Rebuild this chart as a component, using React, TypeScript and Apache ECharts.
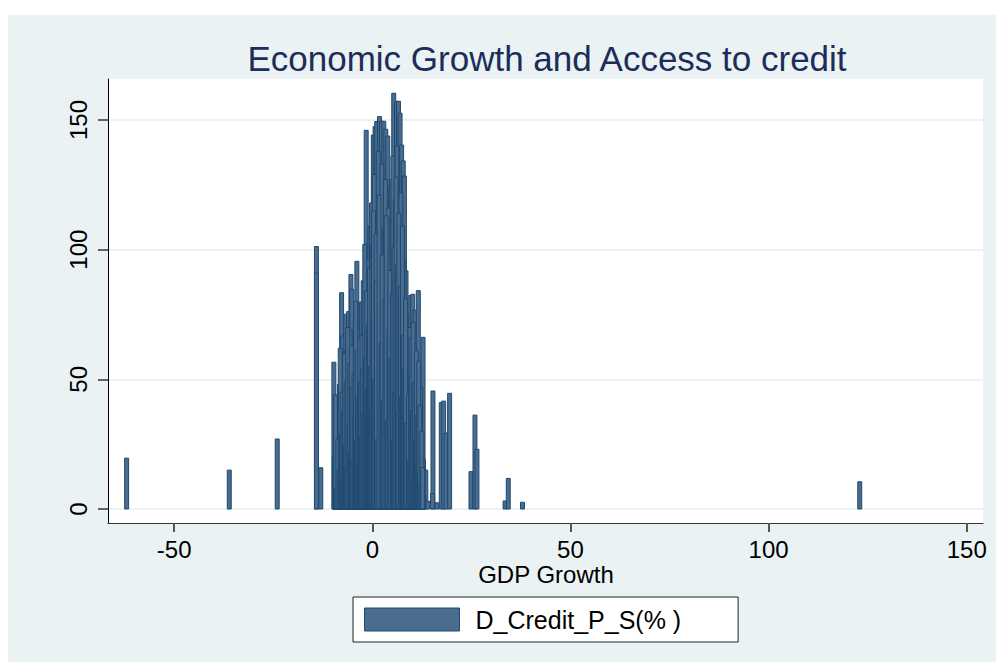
import React, { useEffect, useRef } from "react";
import * as echarts from "echarts";

const titleText = "Economic Growth and Access to credit";
const xAxisTitle = "GDP Growth";
const seriesName = "D_Credit_P_S(% )";

const xTicks = [-50, 0, 50, 100, 150];
const yTicks = [0, 50, 100, 150];

// GDP growth (x) of each observation
const gdpGrowth = [
  // isolated observations
  -62.0, -36.1, -24.0, -14.1, -14.1, -13.0, 24.9, 25.9, 26.4, 33.5, 34.3, 37.9, 123.0,
  15.3, 15.2, 16.3, 17.4, 18.0, 18.6, 19.5, 12.9, 13.5,
  // outer envelope of the central mass
  -9.7, -8.8, -7.75, -7.5, -6.7, -6.0, -5.4, -5.2, -4.7, -3.9, -3.5, -2.75, -2.2, -1.55, -0.6,
  0.25, 0.7, 1.1, 1.8, 2.3, 2.9, 3.4, 3.9, 4.5, 4.8, 5.4, 6.1, 6.6, 7.0, 7.4, 7.8, 8.1, 8.5,
  8.8, 9.2, 9.7, 10.2, 10.8, 11.4, 11.6, 12.8,
  // inner observations of the central mass
  -9.4, -9.1, -8.6, -8.3, -8.0, -7.9, -7.3, -7.1, -6.9, -6.5, -6.3, -6.1, -5.8, -5.6, -5.0,
  -4.8, -4.5, -4.3, -4.1, -3.7, -3.3, -3.1, -2.9, -2.5, -2.3, -2.0, -1.8, -1.3, -1.1, -0.9,
  -0.4, -0.2, 0.0, 0.1, 0.4, 0.5, 0.8, 0.9, 1.2, 1.3, 1.5, 1.6, 1.9, 2.0, 2.1, 2.4, 2.6, 2.7,
  3.0, 3.1, 3.3, 3.6, 3.7, 4.0, 4.1, 4.3, 4.6, 4.9, 5.0, 5.2, 5.6, 5.8, 5.9, 6.2, 6.4, 6.8,
  6.9, 7.2, 7.5, 7.7, 8.0, 8.3, 8.6, 8.9, 9.0, 9.4, 9.5, 9.9, 10.0, 10.4, 10.6, 11.0, 11.2,
  11.8, 12.2, 12.4, 12.6, 13.0, 14.0,
  -9.6, -9.3, -9.0, -8.7, -8.4, -8.1, -7.8, -7.6, -7.4, -7.2, -7.0, -6.8, -6.6, -6.4, -6.2,
  -5.9, -5.7, -5.5, -5.3, -5.1, -4.9, -4.6, -4.4, -4.2, -4.0, -3.8, -3.6, -3.4, -3.2, -3.0,
  -2.8, -2.6, -2.4, -2.1, -1.9, -1.7, -1.6, -1.4, -1.2, -1.0, -0.8, -0.7, -0.5, -0.3, -0.1,
  0.2, 0.3, 0.6, 0.95, 1.05, 1.4, 1.7, 2.2, 2.5, 2.8, 3.2, 3.5, 3.8, 4.2, 4.4, 4.7, 5.1, 5.3,
  5.5, 5.7, 6.0, 6.3, 6.5, 6.7, 7.1, 7.3, 7.6, 7.9, 8.2, 8.4, 8.7, 9.1, 9.3, 9.6, 9.8, 10.1,
  10.3, 10.5, 10.7, 10.9, 11.1, 11.3, 11.5, 11.7, 11.9, 12.0, 12.3, 12.5, 12.7,
];

// D_Credit_P_S(%) of each observation
const creditShare = [
  19.6, 15.0, 27.0, 101.2, 91.0, 15.9, 14.4, 36.2, 23.0, 3.1, 11.8, 2.6, 10.5,
  45.5, 6.0, 2.4, 41.0, 41.6, 29.3, 44.6, 19.2, 15.0,
  56.6, 37.8, 83.4, 66.7, 75.1, 76.1, 90.4, 84.7, 66.2, 95.5, 69.3, 79.8, 67.0, 146.0, 109.1,
  144.2, 147.4, 149.4, 151.3, 149.5, 149.5, 146.4, 143.8, 124.3, 127.1, 160.3, 157.2, 157.2, 152.6, 140.3, 134.2, 128.4, 91.8,
  74.8, 57.5, 82.3, 82.8, 76.7, 51.4, 84.2, 66.2,
  12, 31, 22, 48, 9, 35, 54, 18, 42, 61, 27, 50, 14, 69, 38,
  57, 22, 73, 45, 30, 58, 12, 65, 40, 88, 25, 71, 52, 96, 34,
  80, 118, 61, 102, 44, 129, 85, 20, 112, 68, 138, 37, 95, 121, 56, 133, 79, 18,
  108, 47, 127, 90, 63, 116, 29, 99, 73, 41, 112, 136, 87, 119, 52, 140, 66, 104,
  31, 122, 77, 58, 96, 39, 62, 24, 48, 35, 70, 15, 55, 28, 64, 42, 10,
  33, 47, 21, 8, 5, 3,
  20, 44, 8, 27, 15, 62, 29, 45, 11, 38, 60, 24, 49, 16, 70,
  33, 56, 21, 63, 47, 19, 52, 36, 80, 26, 61, 43, 17, 66, 49,
  28, 67, 54, 37, 102, 58, 23, 84, 46, 71, 15, 93, 55, 38, 97,
  74, 115, 50, 106, 88, 27, 121, 64, 98, 42, 81, 113, 34, 69, 92, 58, 83, 26,
  101, 45, 128, 94, 37, 114, 86, 43, 109, 67, 54, 81, 33, 44, 19, 51, 66, 38,
  72, 12, 49, 27, 61, 36, 18, 57, 13, 40, 9, 30, 16,
];

const FONT = "'Liberation Sans', Arial, sans-serif";
const BAR_FILL = "#4a6c8e";
const BAR_EDGE = "#1f4a70";

export default function App() {
  const ref = useRef<HTMLDivElement>(null);

  useEffect(() => {
    if (!ref.current) return;
    const chart = echarts.init(ref.current, null, { renderer: "svg" });
    const data = gdpGrowth.map((x, i) => [x, creditShare[i]]);

    chart.setOption({
      animation: false,
      backgroundColor: "transparent",
      graphic: [
        {
          type: "text",
          x: 539,
          y: 43,
          style: {
            text: titleText,
            font: `35px ${FONT}`,
            fill: "#1c2d5a",
            textAlign: "center",
            textVerticalAlign: "middle",
          },
        },
        {
          type: "text",
          x: 538,
          y: 559,
          style: {
            text: xAxisTitle,
            font: `24px ${FONT}`,
            lineHeight: 18,
            fill: "#000",
            textAlign: "center",
            textVerticalAlign: "middle",
          },
        },
      ],
      legend: {
        left: 345,
        top: 582,
        orient: "horizontal",
        backgroundColor: "#fff",
        borderColor: "#222",
        borderWidth: 1,
        borderRadius: 0,
        padding: [10, 57, 10, 11],
        itemWidth: 95,
        itemHeight: 23,
        textStyle: { fontSize: 25, color: "#000", fontFamily: FONT, padding: [0, 0, 0, 11] },
        data: [
          {
            name: seriesName,
            icon: "rect",
            itemStyle: { color: BAR_FILL, borderColor: BAR_EDGE, borderWidth: 1 },
          },
        ],
      },
      grid: {
        left: 100,
        top: 64,
        width: 875,
        height: 444,
        show: true,
        backgroundColor: "#fff",
        borderWidth: 0,
      },
      xAxis: {
        type: "value",
        min: -66.7,
        max: 154.1,
        axisLine: { show: true, onZero: false, lineStyle: { color: "#333", width: 1 } },
        axisTick: {
          show: true,
          length: 9,
          inside: false,
          customValues: xTicks,
          lineStyle: { color: "#555", width: 2 },
        },
        axisLabel: {
          customValues: xTicks,
          fontSize: 24,
          lineHeight: 18,
          color: "#000",
          fontFamily: FONT,
          margin: 17,
        },
        splitLine: { show: false },
      },
      yAxis: {
        type: "value",
        min: -5.4,
        max: 165.8,
        axisLine: { show: true, onZero: false, lineStyle: { color: "#000", width: 1 } },
        axisTick: {
          show: true,
          length: 10,
          inside: false,
          customValues: yTicks,
          lineStyle: { color: "#333", width: 1.5 },
        },
        axisLabel: {
          customValues: yTicks,
          rotate: 90,
          fontSize: 24,
          color: "#000",
          fontFamily: FONT,
          margin: 18,
        },
        splitLine: { show: true, lineStyle: { color: "#eaf2f3", width: 2 } },
      },
      series: [
        {
          name: seriesName,
          type: "custom",
          clip: true,
          encode: { x: 0, y: 1 },
          data,
          renderItem: (params: any, api: any) => {
            const x = api.value(0);
            const y = api.value(1);
            const p0 = api.coord([x - 0.5, y]);
            const p1 = api.coord([x + 0.5, 0]);
            return {
              type: "rect",
              shape: { x: p0[0], y: p0[1], width: p1[0] - p0[0], height: p1[1] - p0[1] },
              style: { fill: BAR_FILL, stroke: BAR_EDGE, lineWidth: 1 },
            };
          },
        },
      ],
    });

    return () => chart.dispose();
  }, []);

  return (
    <div style={{ position: "fixed", left: 0, top: 0, width: 996, height: 662, background: "#fff" }}>
      <div
        ref={ref}
        style={{ position: "absolute", left: 8, top: 15, width: 988, height: 647, background: "#eaf2f3" }}
      />
    </div>
  );
}
